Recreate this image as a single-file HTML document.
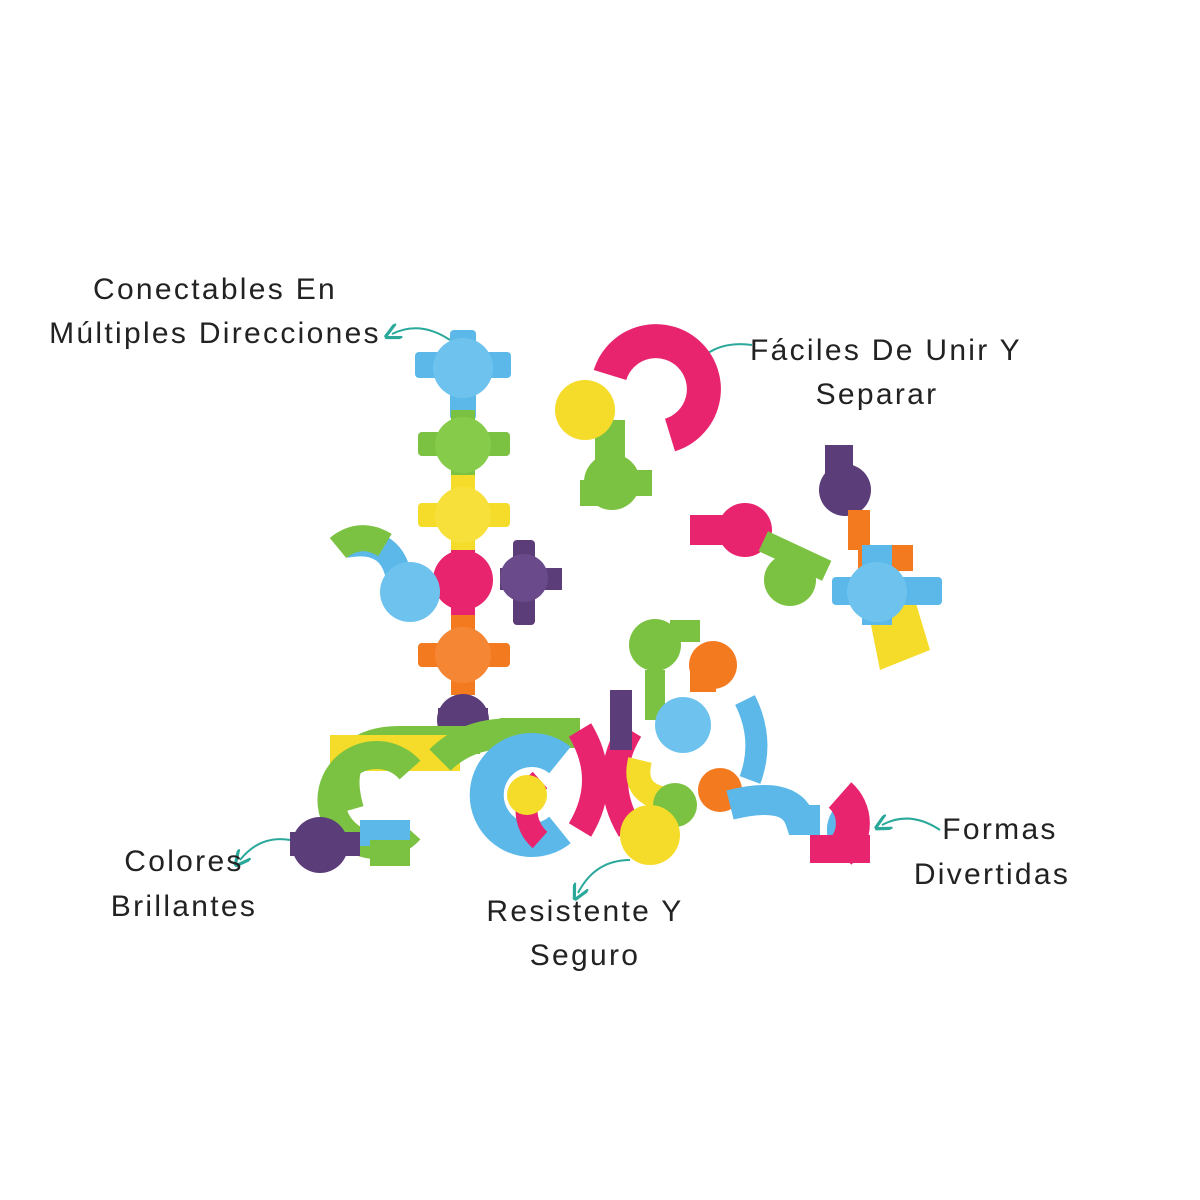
<!DOCTYPE html>
<html><head><meta charset="utf-8"><style>
html,body{margin:0;padding:0;background:#fff;}
.t{position:absolute;font-family:"Liberation Sans",sans-serif;font-size:30px;letter-spacing:2.3px;color:#222;white-space:nowrap;text-align:center;line-height:44px;}
</style></head><body>
<div style="position:relative;width:1200px;height:1200px;overflow:hidden;">
<svg width="1200" height="1200" style="position:absolute;left:0;top:0">
<defs>
<marker id="ah" markerWidth="8" markerHeight="8" refX="4" refY="4" orient="auto"><path d="M0,0 L8,4 L0,8" fill="none" stroke="#2aa89a" stroke-width="1.6"/></marker>
</defs>
<g stroke="#2aa89a" stroke-width="2" fill="none" marker-end="url(#ah)">
<path d="M450,340 Q420,320 392,334"/>
<path d="M752,345 Q715,340 695,365"/>
<path d="M290,840 Q260,835 240,860"/>
<path d="M630,860 Q595,860 578,893"/>
<path d="M940,830 Q910,810 882,825"/>
</g>
<g>
<rect x="415" y="352" width="96" height="26" rx="4" fill="#5bb8e8"/><rect x="450" y="330" width="26" height="90" rx="4" fill="#5bb8e8"/><circle cx="463" cy="368" r="30" fill="#6ec3ee"/>
<rect x="418" y="432" width="92" height="24" rx="4" fill="#7cc242"/><rect x="451" y="410" width="24" height="70" fill="#7cc242"/><circle cx="463" cy="445" r="28" fill="#86cc4a"/>
<rect x="418" y="503" width="92" height="24" rx="4" fill="#f5dc2a"/><rect x="451" y="475" width="24" height="80" fill="#f5dc2a"/><circle cx="463" cy="515" r="28" fill="#f7e03a"/>
<circle cx="463" cy="580" r="30" fill="#e8246e"/><rect x="451" y="550" width="24" height="70" fill="#e8246e"/>
<rect x="500" y="568" width="62" height="22" fill="#5b3d7a"/><rect x="513" y="540" width="22" height="85" rx="4" fill="#5b3d7a"/><circle cx="524" cy="578" r="24" fill="#6a4a8a"/>
<rect x="418" y="643" width="92" height="24" rx="4" fill="#f47a20"/><rect x="451" y="615" width="24" height="80" fill="#f47a20"/><circle cx="463" cy="655" r="28" fill="#f58634"/>
<circle cx="463" cy="720" r="26" fill="#5b3d7a"/><rect x="438" y="708" width="50" height="24" fill="#5b3d7a"/>
<path d="M345,545 Q395,535 400,585" stroke="#5bb8e8" stroke-width="26" fill="none"/>
<path d="M338,548 Q360,530 385,545" stroke="#7cc242" stroke-width="26" fill="none"/>
<circle cx="410" cy="592" r="30" fill="#6ec3ee"/>
</g>
<path d="M610,375 A48,48 0 1 1 670,435" stroke="#e8246e" stroke-width="34" fill="none"/>
<rect x="595" y="420" width="30" height="50" fill="#7cc242"/>
<circle cx="585" cy="410" r="30" fill="#f5dc2a"/>
<rect x="580" y="480" width="22" height="26" fill="#7cc242"/><rect x="630" y="470" width="22" height="26" fill="#7cc242"/>
<circle cx="612" cy="482" r="28" fill="#7cc242"/>
<rect x="690" y="515" width="40" height="30" fill="#e8246e"/>
<circle cx="745" cy="530" r="27" fill="#e8246e"/>
<rect x="760" y="545" width="70" height="22" fill="#7cc242" transform="rotate(25 795 556)"/>
<circle cx="790" cy="580" r="26" fill="#7cc242"/>
<rect x="825" y="445" width="28" height="40" fill="#5b3d7a"/>
<circle cx="845" cy="490" r="26" fill="#5b3d7a"/>
<rect x="848" y="510" width="22" height="40" fill="#f47a20"/>
<rect x="858" y="545" width="55" height="26" fill="#f47a20"/>
<path d="M870,620 L880,670 L930,650 L915,600 Z" fill="#f5dc2a"/>
<rect x="832" y="577" width="110" height="28" rx="4" fill="#5bb8e8"/><rect x="862" y="545" width="30" height="80" fill="#5bb8e8"/>
<circle cx="877" cy="592" r="30" fill="#6ec3ee"/>
<path d="M350,810 Q330,740 400,740 L480,740" stroke="#7cc242" stroke-width="28" fill="none"/>
<rect x="330" y="735" width="130" height="36" fill="#f5dc2a"/>
<path d="M430,770 A45,45 0 1 1 430,830" stroke="#7cc242" stroke-width="28" fill="none" transform="rotate(180 420 800)"/>
<path d="M440,760 Q480,720 560,740" stroke="#7cc242" stroke-width="30" fill="none"/>
<rect x="500" y="718" width="80" height="30" fill="#7cc242"/>
<path d="M560,760 A45,45 0 1 0 560,830" stroke="#5bb8e8" stroke-width="34" fill="none"/>
<path d="M540,780 A40,40 0 0 0 540,840" stroke="#e8246e" stroke-width="22" fill="none"/>
<circle cx="527" cy="795" r="20" fill="#f5dc2a"/>
<path d="M580,730 Q610,780 580,830 M630,730 Q600,780 630,830" stroke="#e8246e" stroke-width="26" fill="none"/>
<rect x="610" y="690" width="22" height="60" fill="#5b3d7a"/>
<circle cx="655" cy="645" r="26" fill="#7cc242"/><rect x="670" y="620" width="30" height="22" fill="#7cc242"/>
<circle cx="713" cy="665" r="24" fill="#f47a20"/><rect x="690" y="670" width="26" height="22" fill="#f47a20"/>
<rect x="645" y="670" width="20" height="50" fill="#7cc242"/>
<circle cx="683" cy="725" r="28" fill="#6ec3ee"/>
<path d="M640,760 Q630,800 680,800" stroke="#f5dc2a" stroke-width="24" fill="none"/>
<path d="M745,700 Q765,740 750,780" stroke="#5bb8e8" stroke-width="22" fill="none"/>
<circle cx="720" cy="790" r="22" fill="#f47a20"/>
<circle cx="675" cy="805" r="22" fill="#7cc242"/>
<path d="M730,805 Q790,790 800,820 L820,820" stroke="#5bb8e8" stroke-width="30" fill="none"/>
<path d="M850,808 A25,25 0 0 0 850,852" stroke="#5bb8e8" stroke-width="20" fill="none"/>
<path d="M830,795 A38,38 0 0 1 830,852" stroke="#e8246e" stroke-width="34" fill="none" transform="translate(10,0)"/>
<rect x="810" y="835" width="60" height="28" fill="#e8246e"/>
<circle cx="650" cy="835" r="30" fill="#f5dc2a"/>
<rect x="360" y="820" width="50" height="26" fill="#5bb8e8"/>
<rect x="370" y="840" width="40" height="26" fill="#7cc242"/>
<circle cx="320" cy="845" r="28" fill="#5b3d7a"/><rect x="290" y="832" width="70" height="24" fill="#5b3d7a"/>
</svg>
<div class="t" style="left:0;top:268px;width:430px">Conectables En</div>
<div class="t" style="left:0;top:312px;width:430px">Múltiples Direcciones</div>
<div class="t" style="left:747px;top:329px;width:278px">Fáciles De Unir Y</div>
<div class="t" style="left:757px;top:373px;width:240px">Separar</div>
<div class="t" style="left:84px;top:840px;width:200px">Colores</div>
<div class="t" style="left:84px;top:885px;width:200px">Brillantes</div>
<div class="t" style="left:465px;top:890px;width:240px">Resistente Y</div>
<div class="t" style="left:485px;top:934px;width:200px">Seguro</div>
<div class="t" style="left:900px;top:808px;width:200px">Formas</div>
<div class="t" style="left:892px;top:853px;width:200px">Divertidas</div>
</div>
</body></html>
